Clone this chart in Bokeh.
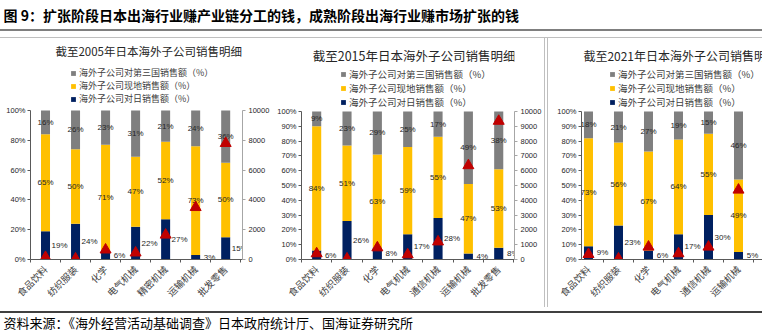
import math
from bokeh.plotting import figure
from bokeh.models import (Range1d, LinearAxis, FixedTicker, PrintfTickFormatter, ColumnDataSource,
                          Legend, LegendItem, Label, Spacer)
from bokeh.layouts import row, column
from bokeh.core.properties import value
from bokeh.embed import file_html
from bokeh.resources import INLINE

# ---------------- data ----------------
chart_title = "图 9：扩张阶段日本出海行业赚产业链分工的钱，成熟阶段出海行业赚市场扩张的钱"
source_note = "资料来源：《海外经营活动基础调查》日本政府统计厅、国海证券研究所"
legend_labels = ["海外子公司对第三国销售额（%）", "海外子公司现地销售额（%）", "海外子公司对日销售额（%）"]

cats_2005 = ["食品饮料", "纺织服装", "化学", "电气机械", "精密机械", "运输机械", "批发零售"]
cats_later = ["食品饮料", "纺织服装", "化学", "电气机械", "通信机械", "运输机械", "批发零售"]

title_2005 = "截至2005年日本海外子公司销售明细"
third_2005 = [16, 26, 23, 31, 21, 24, 36]
local_2005 = [65, 50, 71, 47, 52, 73, 50]
japan_2005 = [19, 24, 6, 22, 27, 3, 15]
sales_2005 = [150, 50, 650, 450, 1650, 3500, 7800]

title_2015 = "截至2015年日本海外子公司销售明细"
third_2015 = [9, 23, 29, 25, 17, 49, 38]
local_2015 = [84, 51, 63, 59, 55, 47, 53]
japan_2015 = [6, 26, 8, 17, 28, 4, 8]
sales_2015 = [400, 50, 800, 330, 1200, 6350, 9350]

title_2021 = "截至2021年日本海外子公司销售明细"
third_2021 = [18, 21, 27, 19, 15, 46]
local_2021 = [73, 56, 67, 64, 55, 49]
japan_2021 = [9, 23, 6, 17, 30, 5]
sales_2021 = [350, 50, 850, 400, 850, 4700]

# ---------------- style ----------------
GRAY = "#7F7F7F"
YELLOW = "#FFC000"
NAVY = "#002060"
RED = "#C00000"
NUM_FONT = "Liberation Sans"
CJK_FONT = "Noto Sans CJK SC"
ROW_TOP = 38
ROW_H = 269


def panel(cats, japan, local, third, sales, title, *, width, b_left, b_right, x_start, x_end,
          zero_abs, pct_px, left_step, right_step, title_x, title_abs, title_size,
          legend_x, legend_bottom_abs, legend_size):
    b_bottom = ROW_TOP + ROW_H - zero_abs
    frame_h = zero_abs - ROW_TOP
    y_end = frame_h / pct_px
    p = figure(width=width, height=ROW_H, x_range=Range1d(x_start, x_end), y_range=Range1d(0, y_end),
               output_backend="svg", toolbar_location=None, x_axis_type=None, y_axis_type=None,
               min_border_left=b_left, min_border_right=b_right, min_border_top=0,
               min_border_bottom=b_bottom)
    p.outline_line_color = None
    p.border_fill_color = "white"
    p.background_fill_color = "white"
    p.extra_y_ranges = {"sales": Range1d(0, y_end * 100)}

    n = len(japan)
    xs = list(range(n))
    lt = [j + l for j, l in zip(japan, local)]
    src = ColumnDataSource(dict(
        x=xs, j=japan, lt=lt, full=[100] * n, sales=sales,
        jy=[j / 2 for j in japan],
        ly=[j + l / 2 for j, l in zip(japan, local)],
        gy=[(t + 100) / 2 for t in lt],
        jlab=[f"{v}%" for v in japan],
        llab=[f"{v}%" for v in local],
        glab=[f"{v}%" for v in third],
    ))
    r_j = p.vbar(x="x", bottom=0, top="j", width=0.3, fill_color=NAVY, line_color=None, source=src)
    r_l = p.vbar(x="x", bottom="j", top="lt", width=0.3, fill_color=YELLOW, line_color=None, source=src)
    r_g = p.vbar(x="x", bottom="lt", top="full", width=0.3, fill_color=GRAY, line_color=None, source=src)

    common = dict(source=src, text_font=value(NUM_FONT), text_font_size="8px",
                  text_color="#262626", text_baseline="middle")
    p.text(x="x", y="gy", text="glab", text_align="center", **common)
    p.text(x="x", y="ly", text="llab", text_align="center", **common)
    p.text(x="x", y="jy", text="jlab", text_align="center", x_offset=14, **common)

    p.scatter(x="x", y="sales", source=src, marker="triangle", size=11,
              fill_color=RED, line_color=RED, y_range_name="sales")

    # axes
    lax = LinearAxis(bounds=(0, 100), ticker=FixedTicker(ticks=list(range(0, 101, left_step))),
                     formatter=PrintfTickFormatter(format="%d%%"))
    lax.axis_line_color = "#595959"
    lax.major_tick_line_color = "#595959"
    lax.major_tick_out = 3
    lax.major_tick_in = 0
    lax.minor_tick_out = 0
    lax.major_label_standoff = 2
    lax.major_label_text_font = NUM_FONT
    lax.major_label_text_font_size = "7.5px"
    lax.major_label_text_color = "#262626"
    p.add_layout(lax, "left")

    if right_step:
        rax = LinearAxis(y_range_name="sales", bounds=(0, 10000),
                         ticker=FixedTicker(ticks=list(range(0, 10001, right_step))))
        rax.axis_line_color = "#A6A6A6"
        rax.major_tick_line_color = "#A6A6A6"
        rax.major_tick_out = 3
        rax.major_tick_in = 0
        rax.minor_tick_out = 0
        rax.major_label_standoff = 3
        rax.major_label_text_font = NUM_FONT
        rax.major_label_text_font_size = "7.5px"
        rax.major_label_text_color = "#262626"
        p.add_layout(rax, "right")

    bax = LinearAxis(ticker=FixedTicker(ticks=list(range(len(cats))),
                                        minor_ticks=[k - 0.5 for k in range(len(cats) + 1)]),
                     major_label_overrides={i: c for i, c in enumerate(cats)})
    bax.major_label_orientation = math.pi / 4
    bax.axis_line_color = "#595959"
    bax.major_tick_out = 0
    bax.major_tick_in = 0
    bax.minor_tick_out = 3
    bax.minor_tick_in = 0
    bax.minor_tick_line_color = "#595959"
    bax.major_label_standoff = 5
    bax.major_label_text_font = CJK_FONT
    bax.major_label_text_font_size = "9.5px"
    bax.major_label_text_color = "#404040"
    p.add_layout(bax, "below")

    if len(cats) > n:
        for k in range(n, len(cats)):
            p.add_layout(Label(x=k, y=0, text=cats[k], angle=math.pi / 4, text_align="right",
                               text_baseline="middle", y_offset=-5, text_font=CJK_FONT,
                               text_font_size="9.5px", text_color="#404040"))

    p.add_layout(Label(x=title_x, y=(zero_abs - title_abs) / pct_px, text=title, text_align="left",
                       text_baseline="middle", text_font=CJK_FONT, text_font_size=title_size,
                       text_color="#262626"))

    legend = Legend(items=[LegendItem(label=legend_labels[0], renderers=[r_g]),
                           LegendItem(label=legend_labels[1], renderers=[r_l]),
                           LegendItem(label=legend_labels[2], renderers=[r_j])],
                    location=(legend_x, zero_abs - legend_bottom_abs), orientation="vertical",
                    label_text_font=CJK_FONT, label_text_font_size=legend_size,
                    label_text_color="#404040",
                    glyph_width=6, glyph_height=6, label_height=10, label_standoff=3,
                    spacing=-2, padding=0, margin=0, border_line_color=None,
                    background_fill_alpha=0)
    p.add_layout(legend)
    return p


p1 = panel(cats_2005, japan_2005, local_2005, third_2005, sales_2005, title_2005,
           width=274, b_left=30, b_right=32, x_start=-0.5, x_end=6.56, zero_abs=262, pct_px=1.51,
           left_step=20, right_step=2000, title_x=0.33, title_abs=51, title_size="11.5px",
           legend_x=40, legend_bottom_abs=108, legend_size="9px")
p2 = panel(cats_later, japan_2015, local_2015, third_2015, sales_2015, title_2015,
           width=270, b_left=27, b_right=30, x_start=-0.5, x_end=6.52, zero_abs=259, pct_px=1.48,
           left_step=10, right_step=1000, title_x=-0.13, title_abs=55, title_size="12.5px",
           legend_x=39, legend_bottom_abs=109, legend_size="9.5px")
p3 = panel(cats_later, japan_2021, local_2021, third_2021, sales_2021, title_2021,
           width=214, b_left=33, b_right=0, x_start=-0.233, x_end=5.8, zero_abs=259, pct_px=1.48,
           left_step=10, right_step=None, title_x=-0.17, title_abs=55, title_size="12px",
           legend_x=28, legend_bottom_abs=109, legend_size="9.5px")


def text_strip(h, txt, size, style, y):
    f = figure(width=762, height=h, x_range=Range1d(0, 762), y_range=Range1d(0, h),
               output_backend="svg", toolbar_location=None, x_axis_type=None, y_axis_type=None,
               min_border=0)
    f.outline_line_color = None
    f.add_layout(Label(x=3, y=y, text=txt, text_align="left", text_baseline="middle",
                       text_font=CJK_FONT, text_font_size=size, text_font_style=style,
                       text_color="#000000"))
    return f


header = text_strip(29, chart_title, "14px", "bold", 14.5)
footer = text_strip(17, source_note, "13px", "normal", 8.5)


def bar(w, h, color):
    return Spacer(width=w, height=h, styles={"background-color": color})


middle = row(p1, p2, bar(1, ROW_H, "#BFBFBF"), bar(2, ROW_H, "#FFFFFF"), bar(1, ROW_H, "#BFBFBF"), p3)
layout = column(header, bar(762, 2, "#7F7F7F"), bar(762, 6, "#FFFFFF"), bar(762, 1, "#BFBFBF"),
                middle, bar(762, 4, "#FFFFFF"), bar(762, 2, "#404040"), footer)

open("out.html", "w").write(file_html(layout, INLINE))
